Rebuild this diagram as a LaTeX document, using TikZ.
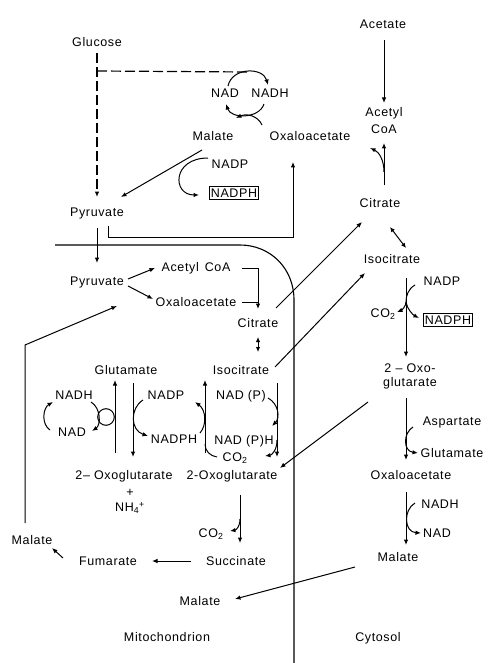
\documentclass[tikz,border=0pt]{standalone}
\usepackage{fontspec}
\setmainfont{Liberation Sans}[LetterSpace=5]
\usetikzlibrary{arrows.meta,calc}
\begin{document}
\begin{tikzpicture}[x=1pt,y=-1pt,
  every node/.style={font=\fontsize{12.5}{15}\selectfont, inner sep=1pt, text height=9pt, text depth=0pt},
  two/.style={align=center, text height={}, text depth={}},
  bx/.style={draw, line width=0.9pt, inner sep=1.8pt},
  ln/.style={line width=1pt},
  ar/.style={ln, -{Latex[length=5.5pt,width=4.5pt]}},
  dar/.style={ln, {Latex[length=5pt,width=4.5pt]}-{Latex[length=5pt,width=4.5pt]}},
  dsh/.style={dash pattern=on 10pt off 4pt, line width=1.2pt},
  mem/.style={line width=1.1pt}]
\useasboundingbox (0,0) rectangle (500,663);
% ---------- nodes: upper (chloroplast/cytosol) ----------
\node (glc) at (97,42) {Glucose};
\node (nadA) at (225,93) {NAD};
\node (nadhA) at (270,93) {NADH};
\node (malA) at (213,136) {Malate};
\node (oaaA) at (310,136) {Oxaloacetate};
\node (nadpA) at (230,164) {NADP};
\node[bx] (nadphA) at (234,193) {NADPH};
\node (pyrA) at (97,212) {Pyruvate};
% ---------- cytosol column ----------
\node (ace) at (383,24) {Acetate};
\node[two, font=\fontsize{12.5}{17}\selectfont] (acoC) at (384,121) {Acetyl\\CoA};
\node (citC) at (380,203) {Citrate};
\node (icitC) at (392,259) {Isocitrate};
\node (nadpC) at (442,281) {NADP};
\node (co2C) at (383,313) {CO\textsubscript{2}};
\node[bx] (nadphC) at (448,320) {NADPH};
\node[two, font=\fontsize{12.5}{14}\selectfont] (oxoC) at (410,376) {2 – Oxo-\\glutarate};
\node (aspC) at (452,421) {Aspartate};
\node (gluC) at (452,453) {Glutamate};
\node (oaaC) at (411,475) {Oxaloacetate};
\node (nadhC) at (440,504) {NADH};
\node (nadC) at (437,533) {NAD};
\node (malC) at (398,557) {Malate};
\node (cyto) at (378,637) {Cytosol};
% ---------- mitochondrion ----------
\node (pyrM) at (97,281) {Pyruvate};
\node (acoM) at (196,267) {Acetyl\hspace{6pt}CoA};
\node (oaaM) at (196,302) {Oxaloacetate};
\node (citM) at (258,323) {Citrate};
\node (icitM) at (241,370) {Isocitrate};
\node (gluM) at (126,370) {Glutamate};
\node (nadhM) at (74,395) {NADH};
\node (nadM) at (72,432) {NAD};
\node (nadpM) at (166,395) {NADP};
\node (nadphM) at (174,439) {NADPH};
\node (nadpxM) at (241,395) {NAD (P)};
\node (nadpxhM) at (244,440) {NAD (P)H};
\node (co2M) at (235,457) {CO\textsubscript{2}};
\node (oxoM1) at (124,475) {2– Oxoglutarate};
\node (oxoM2) at (232,475) {2-Oxoglutarate};
\node (plus) at (130,492) {+};
\node (nh4) at (130,507) {NH\textsubscript{4}\textsuperscript{+}};
\node (co2M2) at (211,533) {CO\textsubscript{2}};
\node (succ) at (236,561) {Succinate};
\node (fum) at (108,561) {Fumarate};
\node (malL) at (32,540) {Malate};
\node (malM) at (200,601) {Malate};
\node (mito) at (167,637) {Mitochondrion};
% ---------- membrane ----------
\draw[mem] (55,245) -- (240,245) .. controls (270,245) and (294,268) .. (294,300) -- (294,663);
% ---------- upper connectors ----------
\draw[dsh, -{Latex[length=5.5pt,width=4.5pt]}] ($(glc)+(0,11)$) -- ($(pyrA)+(0,-15)$);
\draw[dsh] ($(glc)+(0,29)$) -- ($(nadA)+(22,-21)$);
\draw[ar] ($(nadA)+(3,-7)$) .. controls ($(nadA)+(7,-26)$) and ($(nadhA)+(-7,-26)$) .. ($(nadhA)+(-2,-8)$);
\draw[ar] ($(nadhA)+(-6,11)$) .. controls ($(nadhA)+(-11,26)$) and ($(nadA)+(6,26)$) .. ($(nadA)+(1,11)$);
\draw[ar] ($(oaaA)+(-48,-11)$) .. controls ($(oaaA)+(-52,-20)$) and ($(malA)+(34,-23)$) .. ($(malA)+(23,-18)$);
\draw[ar] ($(malA)+(-11,14)$) -- ($(pyrA)+(24,-15)$);
\draw[ar] ($(nadpA)+(-22,-6)$) .. controls ($(nadpA)+(-58,-6)$) and ($(nadphA)+(-62,2)$) .. ($(nadphA)+(-35,2)$);
\draw[ar] ($(pyrA)+(11,14)$) -- ($(pyrA)+(11,25)$) -| ($(oaaA)+(-17,26)$);
% ---------- cytosol connectors ----------
\draw[ar] ($(ace)+(1,16)$) -- ($(acoC)+(0,-18)$);
\draw[ar] ($(citC)+(4,-18)$) -- ($(acoC)+(0,22)$);
\draw[ar] ($(citC)+(4,-31)$) .. controls ($(citC)+(4,-43)$) and ($(citC)+(-1,-51)$) .. ($(citC)+(-10,-55)$);
\draw[dar] ($(citC)+(10,24)$) -- ($(icitC)+(14,-11)$);
\draw[ar] ($(icitC)+(14,19)$) -- ($(oxoC)+(-4,-19)$);
\coordinate (nc) at ($(nadpC)+(-36,21)$);
\draw[ln] ($(nadpC)+(-27,4)$) .. controls ($(nadpC)+(-34,8)$) and ($(nadpC)+(-36,15)$) .. (nc);
\draw[ar] (nc) .. controls ($(nc)+(0,4)$) and ($(nc)+(-4,8)$) .. ($(co2C)+(14,-1)$);
\draw[ar] (nc) .. controls ($(nc)+(1,7)$) and ($(nc)+(7,13)$) .. ($(nadphC)+(-29,-2)$);
\draw[ar] ($(oxoC)+(-4,22)$) -- ($(oaaC)+(-5,-15)$);
\draw[ar] ($(aspC)+(-39,6)$) .. controls ($(aspC)+(-49,12)$) and ($(gluC)+(-49,-2)$) .. ($(gluC)+(-34,0)$);
\draw[ar] ($(oaaC)+(-5,17)$) -- ($(malC)+(8,-12)$);
\draw[ar] ($(nadhC)+(-25,-1)$) .. controls ($(nadhC)+(-37,6)$) and ($(nadC)+(-33,-1)$) .. ($(nadC)+(-16,0)$);
\draw[ar] ($(malC)+(-43,10)$) -- ($(malM)+(35,-2)$);
\draw[ar] ($(oxoC)+(-42,26)$) -- ($(oxoM2)+(48,-7)$);
% ---------- mitochondrion connectors ----------
\draw[ar] ($(pyrA)+(0,16)$) -- ($(pyrM)+(0,-18)$);
\draw[ar] ($(pyrM)+(31,-2)$) -- ($(acoM)+(-41,1)$);
\draw[ar] ($(pyrM)+(31,5)$) -- ($(oaaM)+(-43,-3)$);
\draw[ar] ($(acoM)+(46,1)$) -| ($(citM)+(0,-14)$);
\draw[ln] ($(oaaM)+(46,0)$) -- ($(citM)+(0,-21)$);
\draw[dar] ($(citM)+(0,14)$) -- ($(icitM)+(17,-18)$);
\draw[ar] ($(citM)+(18,-15)$) -- ($(citC)+(-18,19)$);
\draw[ar] ($(icitM)+(34,-3)$) -- ($(icitC)+(-27,14)$);
\draw[ar] ($(oxoM1)+(-9,-22)$) -- ($(gluM)+(-11,10)$);
\draw[ar] ($(gluM)+(7,13)$) -- ($(oxoM1)+(9,-18)$);
\draw[ln] ($(gluM)+(-20,47)$) circle[radius=8.3pt];
\draw[ar] ($(nadhM)+(17,7)$) .. controls ($(nadhM)+(27,13)$) and ($(nadM)+(29,-7)$) .. ($(nadM)+(20,-1)$);
\draw[ar] ($(nadM)+(-22,-2)$) .. controls ($(nadM)+(-31,-8)$) and ($(nadhM)+(-31,13)$) .. ($(nadhM)+(-21,7)$);
\draw[ar] ($(nadpM)+(-23,5)$) .. controls ($(nadpM)+(-36,13)$) and ($(nadphM)+(-44,-9)$) .. ($(nadphM)+(-26,-3)$);
\draw[ar] ($(oxoM2)+(-27,-22)$) -- ($(icitM)+(-36,10)$);
\draw[ar] ($(icitM)+(36,13)$) -- ($(oxoM2)+(45,-18)$);
\draw[ar] ($(nadphM)+(26,-6)$) .. controls ($(nadphM)+(33,-14)$) and ($(nadpM)+(40,15)$) .. ($(nadpM)+(29,7)$);
\draw[ln] ($(co2M)+(-18,0)$) .. controls ($(co2M)+(-25,-1)$) and ($(co2M)+(-30,-6)$) .. ($(co2M)+(-30,-13)$);
\draw[ar] ($(nadpxM)+(27,3)$) .. controls ($(nadpxM)+(38,9)$) and ($(nadpxhM)+(36,-22)$) .. ($(nadpxhM)+(28,-14)$);
\draw[ar] ($(co2M)+(42,-17)$) .. controls ($(co2M)+(42,-7)$) and ($(co2M)+(37,-2)$) .. ($(co2M)+(30,-1)$);
\draw[ar] ($(oxoM2)+(8,20)$) -- ($(succ)+(4,-18)$);
\draw[ar] ($(succ)+(4,-42)$) .. controls ($(succ)+(4,-34)$) and ($(co2M2)+(25,-3)$) .. ($(co2M2)+(19,-2)$);
\draw[ar] ($(succ)+(-45,0)$) -- ($(fum)+(44,0)$);
\draw[ar] ($(fum)+(-45,-3)$) -- ($(malL)+(20,8)$);
\draw[ar] ($(malL)+(-7,-17)$) -- ($(malL)+(-7,-195)$) -- ($(pyrM)+(20,25)$);
\end{tikzpicture}
\end{document}
